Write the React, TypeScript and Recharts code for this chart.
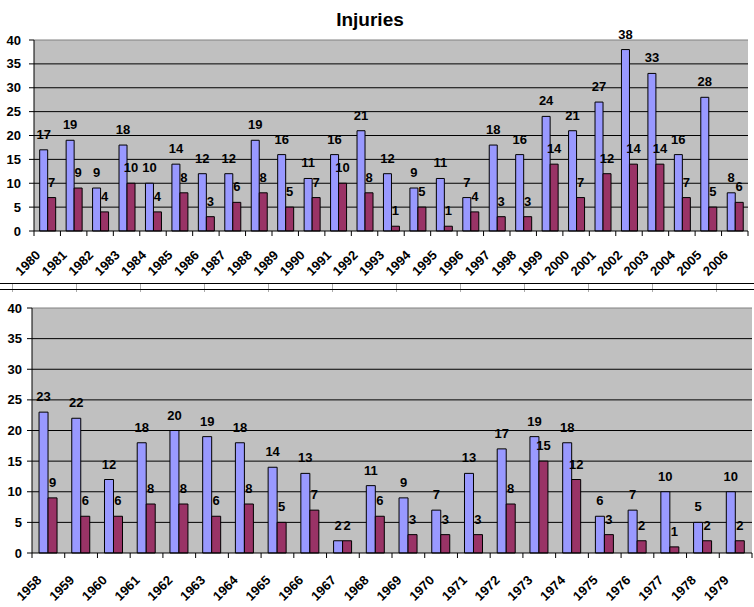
import { BarChart, Bar, XAxis, YAxis, CartesianGrid, LabelList, ReferenceLine } from 'recharts';

const FONT = 'Arial, "Liberation Sans", sans-serif';
const BLUE = '#9999FF';
const MAROON = '#993366';
const PLOT_BG = '#C0C0C0';
const BORDER = '#808080';

// 1980 - 2006
const recentYears = [
  '1980', '1981', '1982', '1983', '1984', '1985', '1986', '1987', '1988', '1989',
  '1990', '1991', '1992', '1993', '1994', '1995', '1996', '1997', '1998', '1999',
  '2000', '2001', '2002', '2003', '2004', '2005', '2006',
];
const recentFirst = [17, 19, 9, 18, 10, 14, 12, 12, 19, 16, 11, 16, 21, 12, 9, 11, 7, 18, 16, 24, 21, 27, 38, 33, 16, 28, 8];
const recentSecond = [7, 9, 4, 10, 4, 8, 3, 6, 8, 5, 7, 10, 8, 1, 5, 1, 4, 3, 3, 14, 7, 12, 14, 14, 7, 5, 6];

// 1958 - 1979
const earlyYears = [
  '1958', '1959', '1960', '1961', '1962', '1963', '1964', '1965', '1966', '1967', '1968',
  '1969', '1970', '1971', '1972', '1973', '1974', '1975', '1976', '1977', '1978', '1979',
];
const earlyFirst = [23, 22, 12, 18, 20, 19, 18, 14, 13, 2, 11, 9, 7, 13, 17, 19, 18, 6, 7, 10, 5, 10];
const earlySecond = [9, 6, 6, 8, 8, 6, 8, 5, 7, 2, 6, 3, 3, 3, 8, 15, 12, 3, 2, 1, 2, 2];

const yTicks = [0, 5, 10, 15, 20, 25, 30, 35, 40];

type PanelProps = {
  years: string[];
  first: number[];
  second: number[];
  top: number;
  height: number;
  marginTop: number;
  marginRight: number;
  yAxisWidth: number;
  xAxisHeight: number;
  yTickMargin: number;
  labelGap: number;
  yearDy: number;
};

const CHART_W = 754;

// year label turned 45deg, plus tick marks on the category edges
// eslint-disable-next-line @typescript-eslint/no-explicit-any
function YearTick(props: any) {
  const { x, y, payload, index, band, count, yearDy } = props;
  const cx = Number(x);
  const cy = Number(y);
  const ax = cx - 6;
  const ay = cy + yearDy;
  return (
    <g>
      <line x1={cx - band / 2} y1={cy} x2={cx - band / 2} y2={cy + 5} stroke="#000" />
      {index === count - 1 && <line x1={cx + band / 2} y1={cy} x2={cx + band / 2} y2={cy + 5} stroke="#000" />}
      <text
        x={ax}
        y={ay}
        textAnchor="end"
        transform={`rotate(-45 ${ax} ${ay})`}
        fontSize={13}
        fontWeight="bold"
        fontFamily={FONT}
        fill="#000"
      >
        {payload.value}
      </text>
    </g>
  );
}

function Panel({
  years, first, second, top, height, marginTop, marginRight, yAxisWidth, xAxisHeight, yTickMargin, labelGap, yearDy,
}: PanelProps) {
  const data = years.map((year, i) => ({ year, first: first[i], second: second[i] }));
  const band = (CHART_W - marginRight - yAxisWidth) / years.length;
  const labelStyle = { fontSize: 13, fontWeight: 'bold', fontFamily: FONT };

  return (
    <div style={{ position: 'absolute', left: 0, top }}>
      <BarChart
        width={CHART_W}
        height={height}
        data={data}
        margin={{ top: marginTop, right: marginRight, bottom: 0, left: 0 }}
        barCategoryGap="21.5%"
        barGap={0}
      >
        <CartesianGrid
          vertical={false}
          horizontalValues={yTicks.filter((t) => t > 0 && t < 40)}
          stroke="#000"
          strokeOpacity={1}
          fill={PLOT_BG}
          fillOpacity={1}
        />
        <XAxis
          dataKey="year"
          interval={0}
          height={xAxisHeight}
          tickSize={0}
          tickMargin={0}
          tickLine={false}
          axisLine={{ stroke: '#000' }}
          tick={(p: any) => <YearTick {...p} band={band} count={years.length} yearDy={yearDy} />}
        />
        <YAxis
          width={yAxisWidth}
          domain={[0, 40]}
          ticks={yTicks}
          interval={0}
          tickSize={5}
          tickMargin={yTickMargin}
          axisLine={{ stroke: '#000' }}
          tickLine={{ stroke: '#000' }}
          tick={{ fill: '#000', fontSize: 13, fontWeight: 'bold', fontFamily: FONT }}
        />
        <YAxis
          yAxisId="edge"
          orientation="right"
          width={0}
          domain={[0, 40]}
          tick={false}
          tickLine={false}
          axisLine={{ stroke: BORDER }}
        />
        <ReferenceLine y={40} stroke={BORDER} strokeWidth={1} />
        <Bar dataKey="first" fill={BLUE} stroke="#000" strokeWidth={1} isAnimationActive={false}>
          <LabelList dataKey="first" position="top" offset={labelGap} fill="#000" style={labelStyle} />
        </Bar>
        <Bar dataKey="second" fill={MAROON} stroke="#000" strokeWidth={1} isAnimationActive={false}>
          <LabelList dataKey="second" position="top" offset={labelGap} fill="#000" style={labelStyle} />
        </Bar>
      </BarChart>
    </div>
  );
}

// sheet row edge between the two embedded charts
const sheetColumns = Array.from({ length: 12 }, (_, i) => 12 + i * 64);

export default function App() {
  return (
    <div style={{ position: 'absolute', left: 0, top: 0, width: 754, height: 607, background: '#fff', fontFamily: FONT, overflow: 'hidden' }}>
      <div
        style={{
          position: 'absolute',
          left: 0,
          top: 10,
          width: 740,
          textAlign: 'center',
          fontSize: 19,
          lineHeight: '19px',
          fontWeight: 'bold',
          color: '#000',
        }}
      >
        Injuries
      </div>
      <Panel
        years={recentYears}
        first={recentFirst}
        second={recentSecond}
        top={0}
        height={282}
        marginTop={40}
        marginRight={6}
        yAxisWidth={34}
        xAxisHeight={51}
        yTickMargin={8}
        labelGap={11}
        yearDy={25}
      />
      <svg width={754} height={14} style={{ position: 'absolute', left: 0, top: 280 }}>
        {sheetColumns.map((x) => (
          <line key={x} x1={x + 0.5} y1={3} x2={x + 0.5} y2={12} stroke="#aaa" />
        ))}
        <line x1={0} y1={3.5} x2={754} y2={3.5} stroke="#000" />
        <line x1={0} y1={9.5} x2={754} y2={9.5} stroke="#000" />
      </svg>
      <Panel
        years={earlyYears}
        first={earlyFirst}
        second={earlySecond}
        top={290}
        height={317}
        marginTop={18}
        marginRight={2}
        yAxisWidth={32}
        xAxisHeight={54}
        yTickMargin={5}
        labelGap={11}
        yearDy={28}
      />
    </div>
  );
}
